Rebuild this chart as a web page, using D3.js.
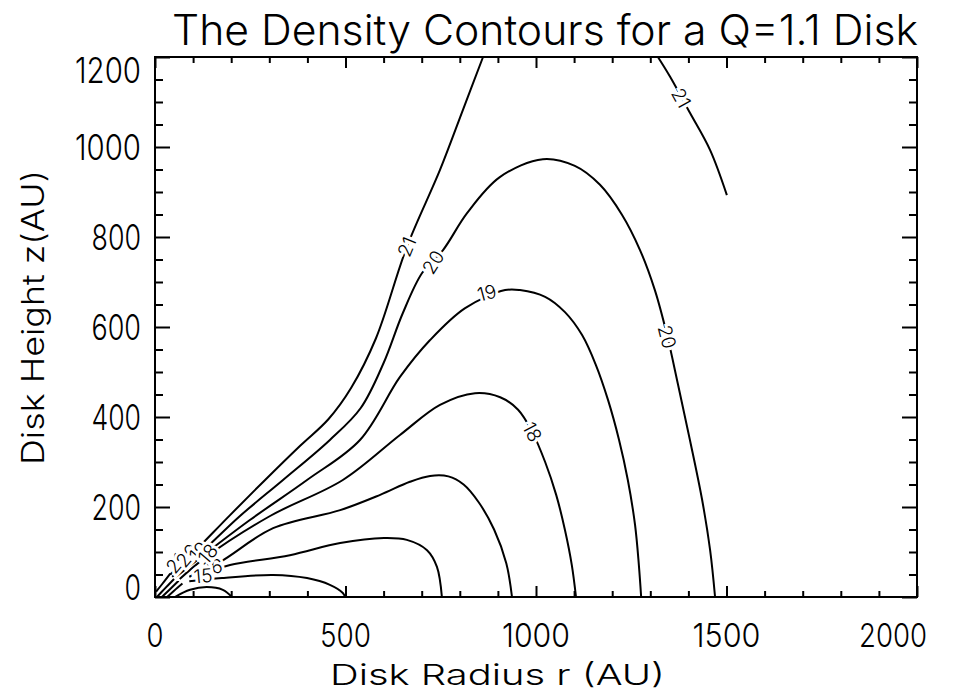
<!DOCTYPE html>
<html>
<head>
<meta charset="utf-8">
<script src="https://cdn.jsdelivr.net/npm/d3@7"></script>
<style>
  body { margin: 0; background: #fff; }
  text { font-family: "Inter", "Lato", "DejaVu Sans", sans-serif; font-weight: 300; fill: #000; }
</style>
</head>
<body>
<div id="chart-area"></div>
<script>
// density contours: [r (AU), z (AU)]
var c21a = [[40,50],[92,91],[197,182],[289,260],[381,336],[455,395],[515,465],[580,575],[661,778],[748,949],[808,1082],[861,1200]];
var c21b = [[1320,1200],[1352,1156],[1404,1076],[1457,993],[1501,893]];
var c20 = [[45,45],[100,82],[223,180],[336,260],[459,349],[540,420],[600,520],[650,630],[701,720],[756,771],[819,853],[905,933],[1018,973],[1102,958],[1168,916],[1226,849],[1273,771],[1312,682],[1344,582],[1373,471],[1404,349],[1436,216],[1457,104],[1470,0]];
var c19 = [[55,45],[118,87],[249,171],[399,260],[538,349],[643,489],[722,571],[814,642],[919,682],[958,682],[1024,667],[1076,633],[1121,582],[1157,516],[1189,438],[1218,349],[1241,260],[1260,160],[1270,71],[1276,0]];
var c18 = [[65,40],[131,87],[302,180],[493,260],[643,360],[748,427],[840,453],[906,444],[953,416],[990,367],[1024,300],[1053,227],[1076,149],[1094,71],[1105,0]];
var c17 = [[90,45],[171,78],[310,153],[486,193],[591,227],[669,256],[722,269],[770,268],[810,250],[850,210],[890,150],[922,75],[937,0]];
var c16 = [[120,50],[197,71],[354,93],[486,120],[601,131],[661,127],[714,104],[740,67],[753,0]];
var c15 = [[90,35],[176,42],[310,49],[399,42],[459,27],[493,9],[499,0]];
var c14 = [[52,0],[92,16],[136,22],[178,16],[202,0]];
var c13 = [[5,0],[25,18],[50,40]];
var c12 = [[18,0],[38,16],[62,36]];
var c11 = [[32,0],[50,14],[72,30]];
var c10 = [[3,12],[20,30],[40,52]];

var contours = [c21a, c21b, c20, c19, c18, c17, c16, c15, c14, c13, c12, c11, c10];

// contour labels
var labelText = ["21", "21", "20", "20", "19", "18", "16", "15", "21", "20", "19", "18"];
var labelAt = [[661,778],[1381,1109],[730,744],[1344,578],[871,676],[990,367],[152,67],[126,47],[55,75],[85,92],[115,101],[139,96]];
var labelAngle = [-68, 61, -58, 76, -15, 62, -10, -5, -50, -50, -50, -50];

var xMajor = [0, 500, 1000, 1500, 2000];
var yMajor = [0, 200, 400, 600, 800, 1000, 1200];

var title = "The Density Contours for a Q=1.1 Disk";
var xTitle = "Disk Radius r (AU)";
var yTitle = "Disk Height z(AU)";

var W = 961, H = 693;
var x = d3.scaleLinear().domain([0, 2000]).range([155, 917]);
var y = d3.scaleLinear().domain([0, 1200]).range([597, 57]);

var svg = d3.select("#chart-area")
    .append("svg")
    .attr("width", W)
    .attr("height", H);

var xMinor = d3.range(0, 2001, 100).filter(function(d){ return xMajor.indexOf(d) < 0; });
var yMinor = d3.range(0, 1201, 50).filter(function(d){ return yMajor.indexOf(d) < 0; });

function tickAxis(axis, scale, vals, size, tx, ty) {
    var g = svg.append("g")
        .attr("transform", "translate(" + tx + "," + ty + ")")
        .call(axis(scale).tickValues(vals).tickSize(-size).tickFormat(""));
    g.select(".domain").remove();
    g.selectAll("line").attr("stroke", "#000").attr("stroke-width", 2);
    return g;
}

// ticks pointing inward on all four sides
tickAxis(d3.axisBottom, x, xMajor, 11, 0, 597);
tickAxis(d3.axisBottom, x, xMinor, 6, 0, 597);
tickAxis(d3.axisTop, x, xMajor, 11, 0, 57);
tickAxis(d3.axisTop, x, xMinor, 6, 0, 57);
tickAxis(d3.axisLeft, y, yMajor, 15, 155, 0);
tickAxis(d3.axisLeft, y, yMinor, 8, 155, 0);
tickAxis(d3.axisRight, y, yMajor, 15, 917, 0);
tickAxis(d3.axisRight, y, yMinor, 8, 917, 0);

// contour lines
var line = d3.line()
    .x(function(d){ return x(d[0]); })
    .y(function(d){ return y(d[1]); })
    .curve(d3.curveCatmullRom.alpha(0.5));

svg.append("g")
    .selectAll("path")
    .data(contours)
    .enter()
    .append("path")
    .attr("d", line)
    .attr("fill", "none")
    .attr("stroke", "#000")
    .attr("stroke-width", 2);

// labels with a white halo to cut the line
svg.append("g")
    .selectAll("text")
    .data(labelText)
    .enter()
    .append("text")
    .attr("transform", function(d, i){
        return "translate(" + x(labelAt[i][0]) + "," + y(labelAt[i][1]) + ") rotate(" + labelAngle[i] + ")";
    })
    .attr("text-anchor", "middle")
    .attr("dy", "0.36em")
    .style("font-size", "19px")
    .style("stroke", "#fff")
    .style("stroke-width", 6)
    .style("paint-order", "stroke")
    .text(function(d){ return d; });

// frame
svg.append("rect")
    .attr("x", 155).attr("y", 57)
    .attr("width", 762).attr("height", 540)
    .attr("fill", "none")
    .attr("stroke", "#000")
    .attr("stroke-width", 2);

// tick labels (narrow digits like the original)
svg.append("g")
    .selectAll("text")
    .data(xMajor)
    .enter()
    .append("text")
    .attr("x", function(d){
        var p = x(d) - 8.5 * String(d).length;
        if (d === 2000) p -= 24;
        return p;
    })
    .attr("y", 647)
    .attr("textLength", function(d){ return 17 * String(d).length; })
    .attr("lengthAdjust", "spacingAndGlyphs")
    .style("font-size", "33px")
    .text(function(d){ return d; });

svg.append("g")
    .selectAll("text")
    .data(yMajor)
    .enter()
    .append("text")
    .attr("x", function(d){ return 141 - 16.5 * String(d).length; })
    .attr("y", function(d){
        var p = y(d);
        if (d === 0) p -= 10;
        if (d === 1200) p += 13;
        return p;
    })
    .attr("dy", "0.36em")
    .attr("textLength", function(d){ return 16.5 * String(d).length; })
    .attr("lengthAdjust", "spacingAndGlyphs")
    .style("font-size", "35px")
    .text(function(d){ return d; });

// titles
svg.append("text")
    .attr("x", 172)
    .attr("y", 45)
    .attr("textLength", 746)
    .attr("lengthAdjust", "spacingAndGlyphs")
    .style("font-size", "42px")
    .text(title);

svg.append("text")
    .attr("x", 330)
    .attr("y", 685)
    .attr("textLength", 335)
    .attr("lengthAdjust", "spacingAndGlyphs")
    .style("font-size", "29px")
    .text(xTitle);

svg.append("text")
    .attr("transform", "translate(44,465) rotate(-90)")
    .attr("textLength", 295)
    .attr("lengthAdjust", "spacingAndGlyphs")
    .style("font-size", "31px")
    .text(yTitle);
</script>
</body>
</html>
